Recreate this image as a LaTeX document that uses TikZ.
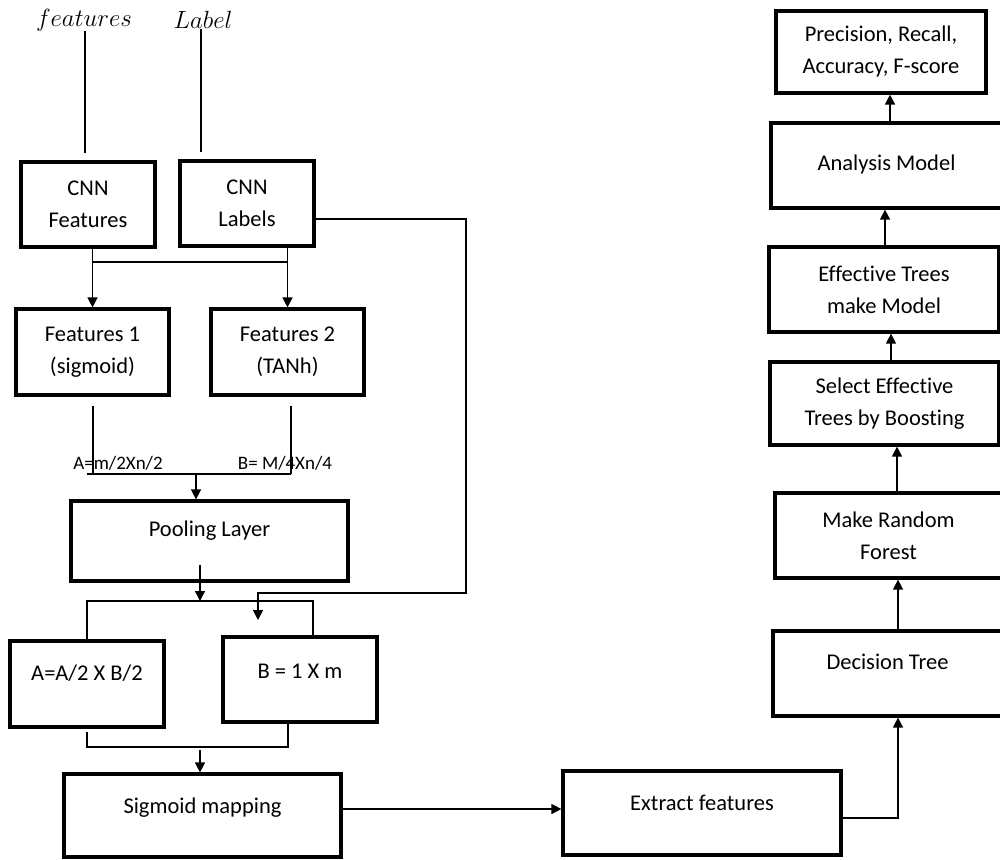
\documentclass[tikz,border=0pt]{standalone}
\usepackage{fontspec}
\setmainfont[Ligatures=NoCommon]{Carlito}
\usetikzlibrary{arrows.meta}
\begin{document}
\begin{tikzpicture}[x=1pt,y=-1pt]
\tikzset{boite/.style={draw, line width=3.2pt, inner sep=0pt, align=center, font=\fontsize{22.5}{32}\selectfont},
trait/.style={line width=1.4pt},
fleche/.style={trait, -{Triangle[width=10pt,length=10pt]}},
petit/.style={inner sep=0pt, font=\fontsize{19}{22}\selectfont},
etiquette/.style={inner sep=0pt, font=\fontsize{24.88}{28}\selectfont}}
\useasboundingbox (0,0) rectangle (1000,859);
\clip (0,0) rectangle (1000,859);
% entrees
\node[etiquette] (feat) at (84,20) {$features$};
\node[etiquette] (lab) at (203,20) {$Label$};
\node[boite, minimum width=134, minimum height=85] (CF) at (88,204.5) {CNN\\Features};
\node[boite, minimum width=134, minimum height=85] (CL) at (247,203.5) {CNN\\Labels};
\node[boite, minimum width=153, minimum height=86] (F1) at (92.5,352) {Features 1\\(sigmoid)};
\node[boite, minimum width=153, minimum height=86] (F2) at (287.5,352) {Features 2\\(TANh)};
\node[petit] (eqA) at (118,463) {A=m/2Xn/2};
\node[petit] (eqB) at (285,463) {B= M/4Xn/4};
\node[boite, minimum width=277, text height=35, text depth=45] (PL) at (209.5,541) {Pooling Layer};
\node[boite, minimum width=154, text height=39, text depth=47] (A) at (87,684) {A=A/2 X B/2};
\node[boite, minimum width=154, text height=41, text depth=44] (B) at (300,679.5) {B = 1 X m};
\node[boite, minimum width=277, text height=39, text depth=44] (SM) at (202.5,815.5) {Sigmoid mapping};
\node[boite, minimum width=278, text height=39, text depth=45] (EF) at (702,813) {Extract features};
% colonne de droite
\node[boite, minimum width=229, text height=38, text depth=47] (DT) at (887.5,673.5) {Decision Tree};
\node[boite, minimum width=227, minimum height=85] (MRF) at (888.5,535.5) {Make Random\\Forest};
\node[boite, minimum width=229, minimum height=83] (SE) at (884.5,403.5) {Select Effective\\Trees by Boosting};
\node[boite, minimum width=230, minimum height=85] (ET) at (884,289.5) {Effective Trees\\make Model};
\node[boite, minimum width=231, text height=47, text depth=38] (AM) at (886.5,165.5) {Analysis Model};
\node[boite, minimum width=210, minimum height=82] (PR) at (881,52) {Precision, Recall,\\Accuracy, F-score};
% liaisons
\draw[trait, shorten >=7pt] ([xshift=1pt]feat.south) -- ([xshift=1pt]feat.south |- CF.north);
\draw[trait, shorten >=7pt] ([xshift=-2pt]lab.south) -- ([xshift=-2pt]lab.south |- CL.north);
\coordinate (r1) at (92.5,262);
\coordinate (r2) at (287.5,262);
\draw[trait] (r1) -- (r2);
\draw[fleche] (F1.north |- CF.south) -- (F1.north);
\draw[fleche] (F2.north |- CL.south) -- (F2.north);
\coordinate (s1) at (93,474);
\coordinate (s2) at (291,474);
\coordinate (s3) at (196,474);
\draw[trait, shorten <=9pt] (s1 |- F1.south) -- (s1);
\draw[trait, shorten <=9pt] (s2 |- F2.south) -- (s2);
\draw[trait] ([xshift=-6pt]s1) -- (s2);
\draw[fleche] (s3) -- (s3 |- PL.north);
\coordinate (t0) at (200,601);
\coordinate (u2) at (313,601);
\draw[fleche] ([yshift=18pt]PL.south -| t0) -- (t0);
\draw[trait] (A.north) |- (u2) -- (u2 |- B.north);
\coordinate (v1) at (466,593);
\coordinate (v2) at (258,593);
\coordinate (v3) at (258,620);
\draw[fleche] ([yshift=-15.5pt]CL.east) -| (v1) -- (v2) -- (v3);
\coordinate (w1) at (87,747);
\coordinate (w2) at (288,747);
\coordinate (w3) at (200,750);
\draw[trait] ([yshift=-3pt]A.south) -- (w1) -- (w2) -- (w2 |- B.south);
\draw[fleche] (w3) -- (w3 |- SM.north);
\draw[fleche] ([yshift=6.5pt]SM.east) -- ([yshift=6.5pt]SM.east -| EF.west);
\draw[fleche] ([yshift=-5pt]EF.east) -| ([xshift=10.5pt]DT.south);
\draw[fleche] ([xshift=10.5pt]DT.north) -- ([xshift=10.5pt]DT.north |- MRF.south);
\draw[fleche] ([xshift=8.5pt]MRF.north) -- ([xshift=8.5pt]MRF.north |- SE.south);
\draw[fleche] ([xshift=6.5pt]SE.north) -- ([xshift=6.5pt]SE.north |- ET.south);
\draw[fleche] ([xshift=1pt]ET.north) -- ([xshift=1pt]ET.north |- AM.south);
\draw[fleche] ([xshift=3.5pt]AM.north) -- ([xshift=3.5pt]AM.north |- PR.south);
\end{tikzpicture}
\end{document}
